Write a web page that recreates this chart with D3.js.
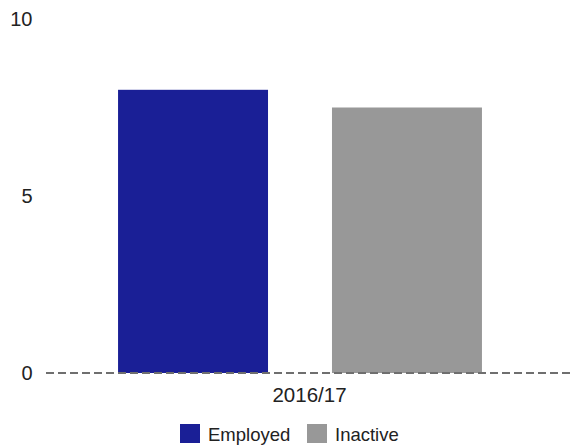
<!DOCTYPE html>
<html>
<head>
<meta charset="utf-8">
<script src="https://cdn.jsdelivr.net/npm/d3@7"></script>
<style>
  html, body { margin: 0; padding: 0; background: #ffffff; }
  svg text { font-family: "Liberation Sans", Arial, sans-serif; fill: #222222; }
</style>
</head>
<body>
<svg id="chart" width="573" height="447"></svg>
<script>
// Chart data
const categories = ["2016/17"];
const seriesNames = ["Employed", "Inactive"];
const seriesColors = ["#1a1f96", "#989898"];
const employedValues = [8.0];
const inactiveValues = [7.5];
const yTicks = [0, 5, 10];

const seriesValues = [employedValues, inactiveValues];

const svg = d3.select("#chart");

const plotLeft = 46, plotRight = 573;
const y = d3.scaleLinear().domain([0, 10]).range([373, 19]);

// category axis spans the full plot width (label placement)
const xAxisScale = d3.scaleBand().domain(categories).range([plotLeft, plotRight]);

// grouping of bars within each category
const x0 = d3.scaleBand().domain(categories).range([plotLeft, 554])
  .paddingInner(0).paddingOuter(0.198);
const x1 = d3.scaleBand().domain(seriesNames).range([0, x0.bandwidth()])
  .paddingInner(0.299).paddingOuter(0);

// y tick labels
svg.append("g").selectAll("text")
  .data(yTicks)
  .join("text")
  .attr("x", 32.5)
  .attr("y", d => y(d))
  .attr("dy", "0.35em")
  .attr("text-anchor", "end")
  .attr("font-size", 20)
  .text(d => d);

// bars
const groups = svg.append("g").selectAll("g")
  .data(categories)
  .join("g")
  .attr("transform", c => `translate(${x0(c)},0)`);

groups.selectAll("rect")
  .data((c, ci) => seriesNames.map((s, si) => ({ s, si, v: seriesValues[si][ci] })))
  .join("rect")
  .attr("x", d => x1(d.s))
  .attr("width", x1.bandwidth())
  .attr("y", d => y(d.v))
  .attr("height", d => y(0) - y(d.v))
  .attr("fill", d => seriesColors[d.si]);

// dashed baseline at zero
svg.append("line")
  .attr("x1", plotLeft).attr("x2", plotRight)
  .attr("y1", y(0)).attr("y2", y(0))
  .attr("stroke", "#6f6f6f")
  .attr("stroke-width", 2)
  .attr("stroke-dasharray", "8,4");

// category labels
svg.append("g").selectAll("text")
  .data(categories)
  .join("text")
  .attr("x", c => xAxisScale(c) + xAxisScale.bandwidth() / 2)
  .attr("y", 402)
  .attr("text-anchor", "middle")
  .attr("font-size", 20.5)
  .text(c => c);

// legend
const legendX = [180, 307];
const legend = svg.append("g").selectAll("g")
  .data(seriesNames)
  .join("g")
  .attr("transform", (d, i) => `translate(${legendX[i]},424)`);

legend.append("rect")
  .attr("width", 20).attr("height", 19)
  .attr("fill", (d, i) => seriesColors[i]);

legend.append("text")
  .attr("x", 28)
  .attr("y", 17)
  .attr("font-size", 18.5)
  .text(d => d);
</script>
</body>
</html>
